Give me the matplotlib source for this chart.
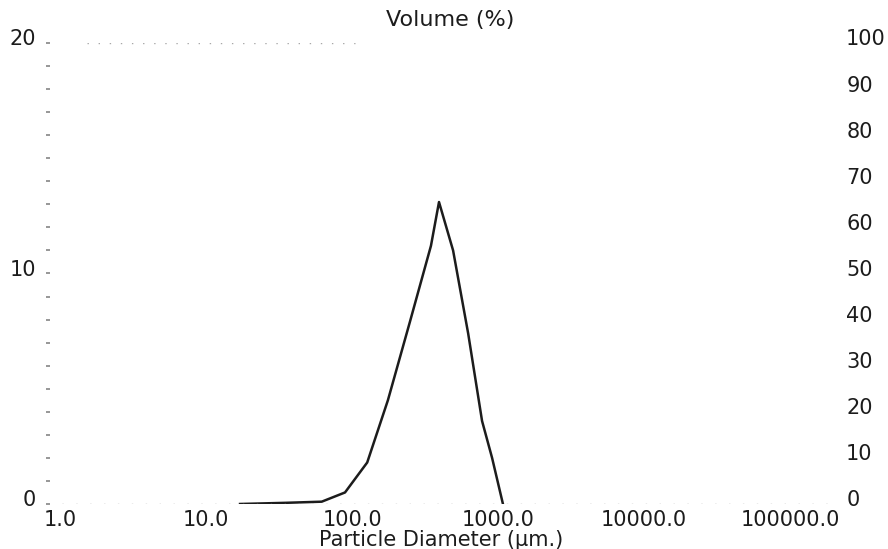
import matplotlib
matplotlib.use("Agg")
import matplotlib.pyplot as plt
from matplotlib.transforms import ScaledTranslation

# Particle size distribution (volume %)
diameter_um = [17.1, 35.0, 62.0, 89.5, 127.0, 176.0, 249.0, 347.0, 394.0,
               492.0, 624.0, 777.0, 910.0, 1080.0]
volume_pct = [0.0, 0.05, 0.1, 0.5, 1.8, 4.5, 7.9, 11.2, 13.1,
              11.0, 7.4, 3.6, 2.0, 0.0]

x_ticks = [1.0, 10.0, 100.0, 1000.0, 10000.0, 100000.0]
x_ticklabels = ["1.0", "10.0", "100.0", "1000.0", "10000.0", "100000.0"]
left_ticks = [0, 10, 20]
right_ticks = [0, 10, 20, 30, 40, 50, 60, 70, 80, 90, 100]

plt.rcParams["font.family"] = ["DejaVu Sans"]
ink = "#1c1c1c"

fig = plt.figure(figsize=(8.88, 5.49), dpi=100)
ax = fig.add_axes([0.0541, 0.0820, 0.8863, 0.8397])

ax.plot(diameter_um, volume_pct, color=ink, lw=1.8, solid_joinstyle="round")

ax.set_xscale("log")
ax.set_xlim(10 ** -0.082, 10 ** 5.308)
ax.set_ylim(0, 20)

# faint dotted frame lines like the scan
ax.axhline(0, color="#9a9a9a", lw=1.0, ls=(0, (1, 9)))
ax.axhline(20, xmin=0.05, xmax=0.39, color="#a8a8a8", lw=1.0, ls=(0, (1, 7)))

for s in ax.spines.values():
    s.set_visible(False)

ax.set_xticks(x_ticks)
ax.set_xticklabels(x_ticklabels)
ax.xaxis.set_minor_locator(plt.NullLocator())
ax.tick_params(axis="x", length=0, pad=4, labelsize=15, labelcolor=ink)

ax.set_yticks(left_ticks)
ax.set_yticks(range(0, 21), minor=True)
ax.tick_params(axis="y", which="both", direction="inout", length=3,
               color="#7a7a7a", width=1.1, pad=7, labelsize=15, labelcolor=ink)

ax.set_xlabel("Particle Diameter (µm.)", fontsize=15, color=ink, labelpad=0)

ax2 = ax.twinx()
ax2.set_ylim(0, 100)
ax2.set_yticks(right_ticks)
for s in ax2.spines.values():
    s.set_visible(False)
ax2.tick_params(axis="y", length=0, pad=8, labelsize=15, labelcolor=ink)

# the scanned tick labels sit a little above their grid values
shift = ScaledTranslation(0, 5.5 / 100, fig.dpi_scale_trans)
for lab in ax.get_yticklabels() + ax2.get_yticklabels():
    lab.set_transform(lab.get_transform() + shift)

fig.text(0.507, 0.963, "Volume (%)", ha="center", va="center",
         fontsize=16, color=ink)

fig.savefig("out.png", dpi=100)
